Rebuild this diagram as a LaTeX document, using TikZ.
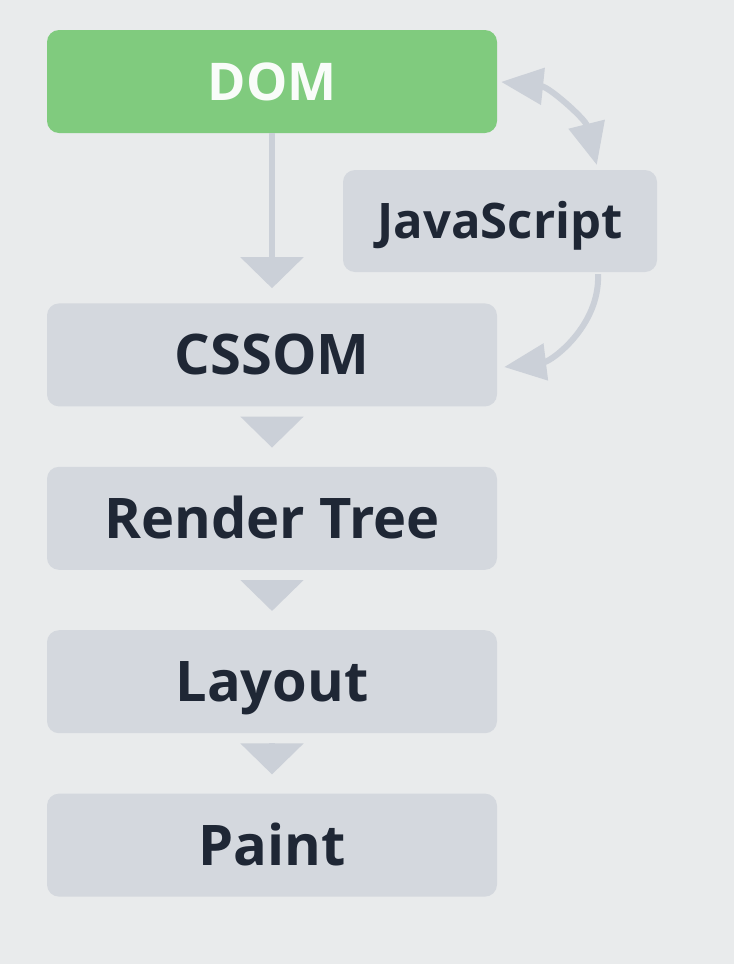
\documentclass[tikz,border=0pt]{standalone}
\usepackage{fontspec}
\setmainfont{Open Sans}
\usetikzlibrary{positioning,arrows.meta}
\definecolor{bgcol}{HTML}{E9EBEC}
\definecolor{boxcol}{HTML}{D4D8DE}
\definecolor{domgreen}{HTML}{80CB7E}
\definecolor{arrowcol}{HTML}{CBD0D8}
\definecolor{textcol}{HTML}{1F2735}
\tikzstyle{block} = [rectangle, fill=boxcol, text=textcol, minimum width=450pt,
    minimum height=103pt, rounded corners=12pt, text height=40pt, text depth=0pt,
    font=\fontsize{56}{68}\selectfont\bfseries]
\tikzstyle{line} = [draw=arrowcol, line width=6pt, -{Triangle[width=62pt,length=31pt]}]
\tikzstyle{bent} = [draw=arrowcol, line width=6pt]

\begin{document}
\begin{tikzpicture}[x=1pt, y=1pt, node distance=60pt]
		\fill [bgcol] (0,0) rectangle (734,-964);
		\node [block, fill=domgreen, text=white!95!domgreen, text height=37pt,
		    font=\fontsize{52}{62}\selectfont\bfseries] (dom) at (272,-81.5) {DOM};
		\node [block, below=170pt of dom] (cssom) {CSSOM};
		\node [block, below=of cssom] (render) {Render Tree};
		\node [block, below=of render] (layout) {Layout};
		\node [block, below=of layout] (paint) {Paint};
		\node [block, minimum width=314pt, minimum height=102pt, text height=35pt,
		    font=\fontsize{49}{59}\selectfont\bfseries] (js) at (500,-221) {JavaScript};
		
		\path [line, shorten >=15pt] (dom) -- (cssom);
		\path [line, shorten <=10pt, shorten >=19pt] (cssom) -- (render);
		\path [line, shorten <=10pt, shorten >=19pt] (render) -- (layout);
		\path [line, shorten <=10pt, shorten >=19pt] (layout) -- (paint);
		
		\path [bent, {Triangle[width=36pt,length=42pt]}-{Triangle[width=36pt,length=42pt]},
		    shorten <=4pt, shorten >=5pt]
		    (dom.east) to[out=-6, in=104] ([xshift=98pt]js.north);
		\path [bent, -{Triangle[width=36pt,length=42pt]}, shorten <=2pt, shorten >=7pt]
		    ([xshift=98pt]js.south) to[out=-88, in=7] ([yshift=-13pt]cssom.east);
	\end{tikzpicture}
\end{document}
